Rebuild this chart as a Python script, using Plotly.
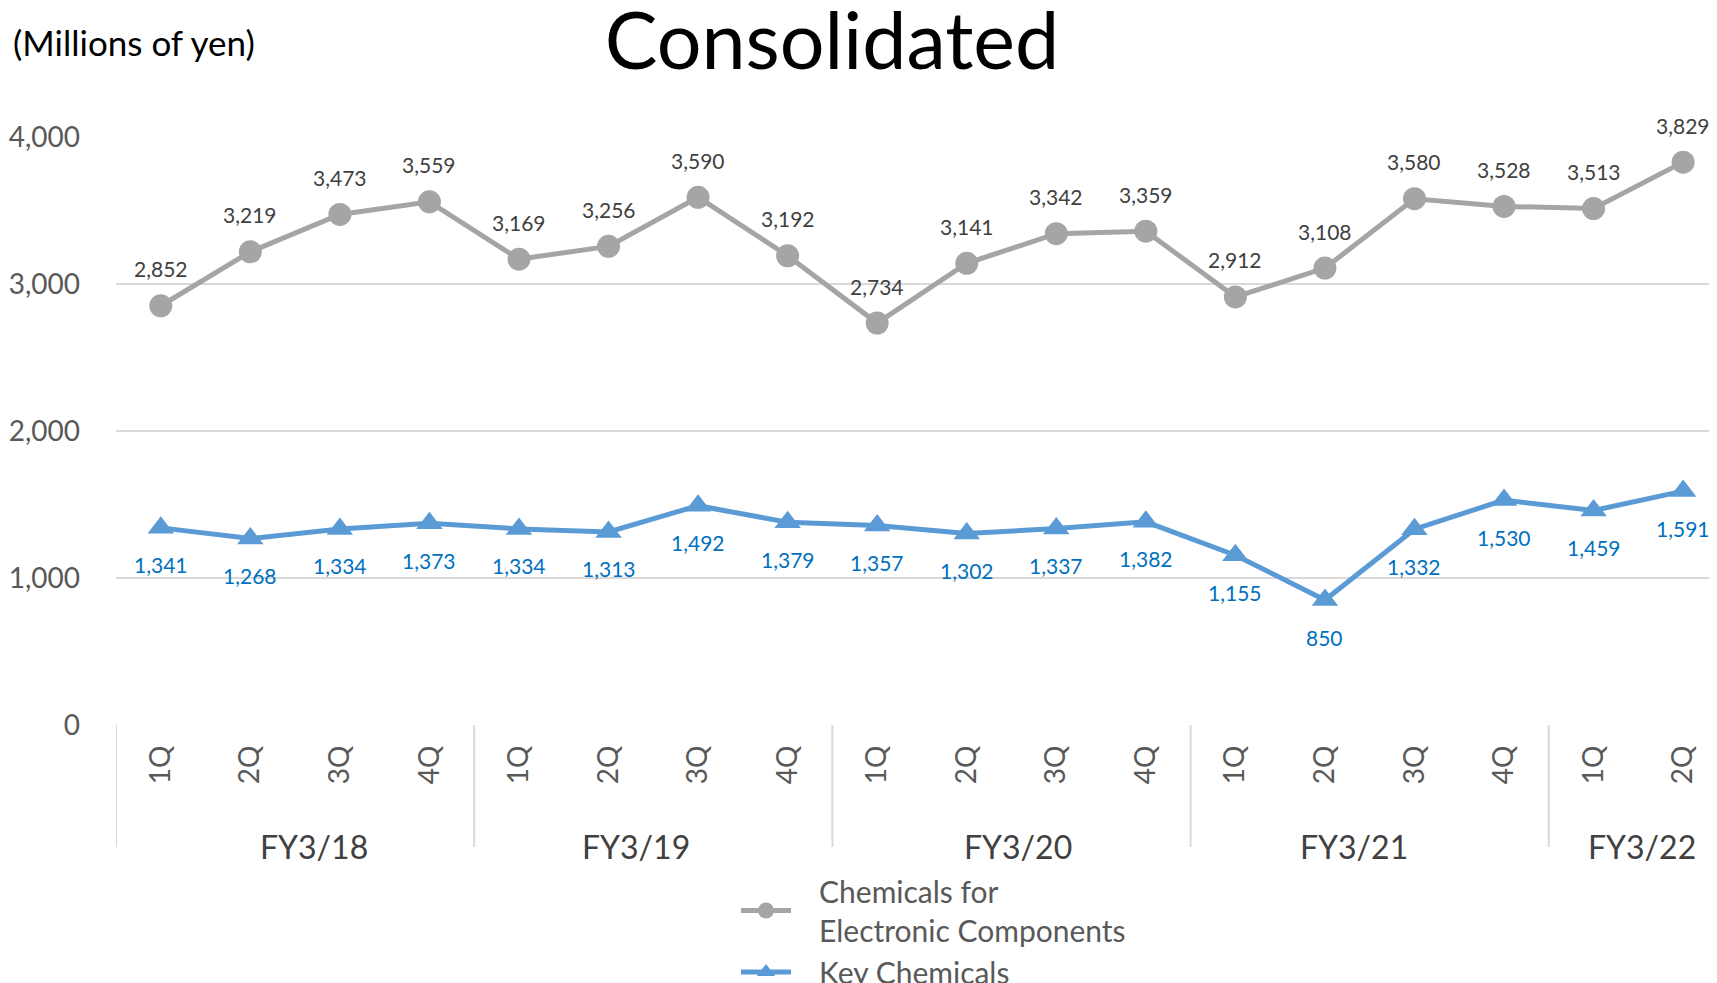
import plotly.graph_objects as go

quarters = ["1Q", "2Q", "3Q", "4Q", "1Q", "2Q", "3Q", "4Q", "1Q", "2Q", "3Q", "4Q",
            "1Q", "2Q", "3Q", "4Q", "1Q", "2Q"]
fiscal_years = ["FY3/18", "FY3/19", "FY3/20", "FY3/21", "FY3/22"]
fy_label_pos = [1.71, 5.31, 9.57, 13.32, 16.54]
group_bounds = [-0.5, 3.5, 7.5, 11.5, 15.5]
electronic = [2852, 3219, 3473, 3559, 3169, 3256, 3590, 3192, 2734, 3141, 3342, 3359,
              2912, 3108, 3580, 3528, 3513, 3829]
key_chem = [1341, 1268, 1334, 1373, 1334, 1313, 1492, 1379, 1357, 1302, 1337, 1382,
            1155, 850, 1332, 1530, 1459, 1591]
y_ticks = [0, 1000, 2000, 3000, 4000]

FONT = "Lato"
OFF = 8  # page body margin
W, H = 1717 - OFF, 983 - OFF
L, T = 116 - OFF, 137 - OFF
BOT = 725 - OFF
B = H - BOT
plot_h = BOT - T
plot_w = W - L
STEP = 89.55

xs = list(range(len(quarters)))
pad = "\u00a0\u00a0\u00a0"

fig = go.Figure()
fig.add_trace(go.Scatter(
    x=xs, y=electronic, mode="lines+markers",
    name=pad + "Chemicals for<br>" + pad + "Electronic Components",
    line=dict(color="#a5a5a5", width=5),
    marker=dict(symbol="circle", size=23, color="#a5a5a5"),
    cliponaxis=False,
))
fig.add_trace(go.Scatter(
    x=xs, y=key_chem, mode="lines+markers",
    name=pad + "Key Chemicals",
    line=dict(color="#5b9bd5", width=5),
    marker=dict(symbol="triangle-up", size=23, color="#5b9bd5"),
    cliponaxis=False,
))

annotations = []
for x, v in zip(xs, electronic):
    annotations.append(dict(x=x, y=v, xref="x", yref="y", text=f"{v:,}", showarrow=False,
                            yshift=37, font=dict(family=FONT, size=21, color="#404040")))
for x, v in zip(xs, key_chem):
    annotations.append(dict(x=x, y=v, xref="x", yref="y", text=f"{v:,}", showarrow=False,
                            yshift=-37, font=dict(family=FONT, size=21, color="#0070c0")))
for x, t in zip(fy_label_pos, fiscal_years):
    annotations.append(dict(x=x, y=-(846 - 725) / plot_h, xref="x", yref="paper", text=t,
                            showarrow=False, xanchor="center", yanchor="middle",
                            font=dict(family=FONT, size=32, color="#404040")))
annotations.append(dict(x=(3 - L) / plot_w, y=(BOT - 34) / plot_h, xref="paper", yref="paper",
                        text="(Millions of yen)", showarrow=False, xanchor="left", yanchor="middle",
                        font=dict(family=FONT, size=35, color="#000000")))

shapes = []
for b in group_bounds:
    shapes.append(dict(type="line", xref="x", yref="paper", x0=b, x1=b, y0=0,
                       y1=-(847 - 725) / plot_h, line=dict(color="#d9d9d9", width=2)))

fig.update_layout(
    width=W, height=H,
    margin=dict(l=L, r=0, t=T, b=B, autoexpand=False),
    paper_bgcolor="white", plot_bgcolor="white",
    title=dict(text="Consolidated", x=824 / W, xref="container", xanchor="center",
               y=1 - 33 / H, yref="container", yanchor="middle",
               font=dict(family=FONT, size=79, color="#000000")),
    xaxis=dict(range=[-0.5, plot_w / STEP - 0.5], tickmode="array", tickvals=xs,
               ticktext=quarters, tickangle=-90, showgrid=False, zeroline=False,
               showline=False, ticks="", ticklabelstandoff=14,
               tickfont=dict(family=FONT, size=28, color="#595959")),
    yaxis=dict(range=[0, 4000], tickmode="array", tickvals=y_ticks,
               ticktext=[f"{v:,}" for v in y_ticks], showgrid=True, gridcolor="#d9d9d9",
               gridwidth=2, zeroline=False, showline=False, ticks="", ticklabelstandoff=35,
               tickfont=dict(family=FONT, size=28, color="#595959")),
    showlegend=True,
    legend=dict(x=(728 - L) / plot_w, xanchor="left", y=-(857 - 717) / plot_h, yanchor="top",
                font=dict(family=FONT, size=30, color="#595959"), itemwidth=50,
                bgcolor="rgba(0,0,0,0)", tracegroupgap=5),
    annotations=annotations,
    shapes=shapes,
)

fig.write_html("out.html")
